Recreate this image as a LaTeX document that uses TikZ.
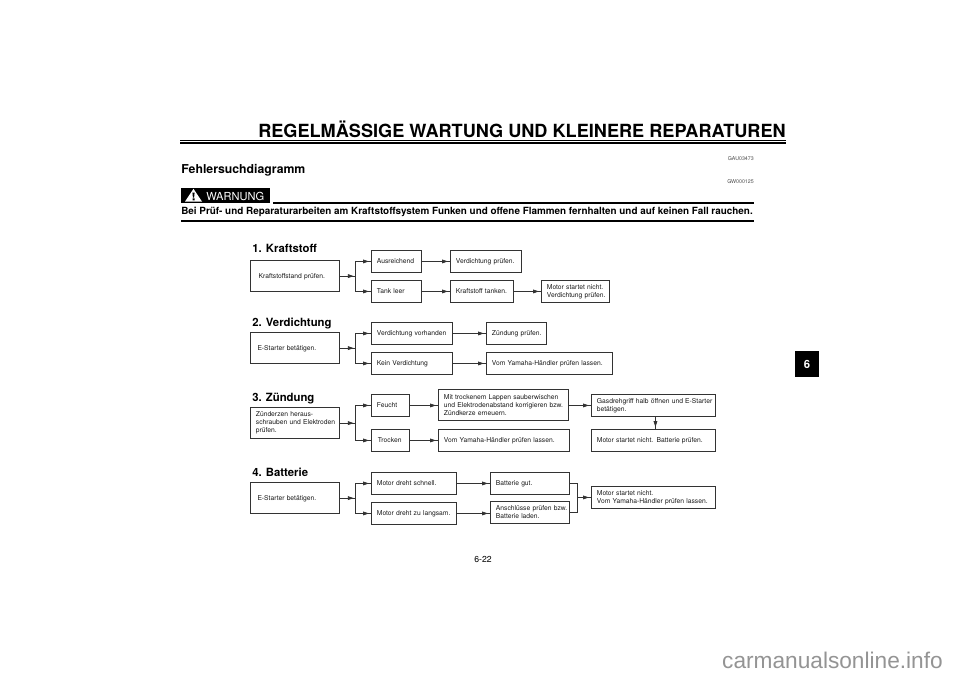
\documentclass[tikz,border=0pt]{standalone}
\usepackage{fontspec}
\setmainfont{TeX Gyre Heros}
\newfontfamily\markfont{Liberation Sans}
\usetikzlibrary{arrows.meta,positioning,decorations.markings}
\newcommand{\boxfont}{\fontsize{5.05pt}{6pt}\selectfont}
\newcommand{\headfont}{\fontsize{8.5pt}{10pt}\selectfont\bfseries}
\definecolor{inkgrey}{gray}{0.2}

\begin{document}
\begin{tikzpicture}[x=0.75pt,y=-0.75pt]
	\tikzstyle{flowbox}[60]=[draw=inkgrey,line width=0.65pt,anchor=north west,inner xsep=0.5pt,inner ysep=0pt,text width=#1*0.75pt-1pt,font=\boxfont,text=black!90,execute at begin node={\leftskip=3.6pt\rightskip=0pt plus 1fil\hyphenpenalty=10000}];
	\tikzstyle{low}=[minimum height=16.5pt];
	\tikzstyle{high}=[minimum height=23.5pt];
	\tikzstyle{one}=[text depth=0pt];
	\tikzstyle{head}=[anchor=base west,inner sep=0pt,font=\headfont];
	\tikzstyle{small}=[anchor=base east,inner sep=0pt,font=\fontsize{3.95pt}{4pt}\selectfont,text=black!70];
	\tikzstyle{wire}=[draw=inkgrey,line width=0.6pt,postaction={decorate},decoration={markings,mark=at position -1.5pt with {\arrow{Triangle[length=4.5pt,width=2.8pt]}}}];
	\tikzstyle{plain}=[draw=inkgrey,line width=0.6pt];
	\path[use as bounding box,fill=white] (0,0) rectangle (960,678);
	% page head
	\node at (786,137) (title) [anchor=base east,inner sep=0pt,font=\fontsize{13.6pt}{14pt}\selectfont\bfseries] {REGELMÄSSIGE WARTUNG UND KLEINERE REPARATUREN};
	\coordinate (rule_l) at (180,140);
	\coordinate (rule_r) at (786,140);
	\draw[line width=0.5pt] (rule_l) -- (rule_r);
	\draw[line width=1.5pt] ([yshift=-2.2pt]rule_l) -- ([yshift=-2.2pt]rule_r);
	\node at (754,160) (code1) [small] {GAU03473};
	\node at (181,173) (subtitle) [anchor=base west,inner sep=0pt,font=\fontsize{9.2pt}{10pt}\selectfont\bfseries] {Fehlersuchdiagramm};
	\node at (754,183) (code2) [small] {GW000125};
	\node at (181,188) (warnbox) [anchor=north west,fill=black,minimum width=66.8pt,minimum height=11.3pt,inner sep=0pt] {};
	\fill[white,line join=round] (185,201.5) -- (193.5,188.8) -- (202,201.5) -- cycle;
	\fill[black] (192.4,192.5) -- (194.6,192.5) -- (194.1,197.5) -- (192.9,197.5) -- cycle (192.5,198.3) rectangle (194.5,200.3);
	\node at (206,200.7) (warntext) [anchor=base west,inner sep=0pt,text=white,font=\fontsize{8.3pt}{9pt}\selectfont] {WARNUNG};
	\coordinate (warn_l) at (273,203);
	\coordinate (warn_r) at (754,203);
	\draw[line width=1.1pt] (warn_l) -- (warn_r);
	\node at (181,214) (warntext2) [anchor=base west,inner sep=0pt,font=\fontsize{7.42pt}{8pt}\selectfont\bfseries] {Bei Prüf- und Reparaturarbeiten am Kraftstoffsystem Funken und offene Flammen fernhalten und auf keinen Fall rauchen.};
	\coordinate (warn2_l) at (181,221);
	\coordinate (warn2_r) at (754,221);
	\draw[line width=0.8pt] (warn2_l) -- (warn2_r);
	% 1
	\node at (252,252) (head1) [head] {1. Kraftstoff};
	\node at (250,260) (kraft_start) [flowbox=89,high,one] {\hspace*{2pt}Kraftstoffstand prüfen.};
	\node at (371,250) (kraft_ok) [flowbox=50,low,one] {Ausreichend};
	\node at (450,250) (kraft_verd) [flowbox=71,low,one] {Verdichtung prüfen.};
	\node at (371,280) (kraft_leer) [flowbox=50,low,one] {Tank leer};
	\node at (450,280) (kraft_tank) [flowbox=63,low,one] {Kraftstoff tanken.};
	\node at (541,280) (kraft_motor) [flowbox=68,low] {Motor startet nicht.\\Verdichtung prüfen.};
	\path (kraft_start.east) ++(16,0) coordinate (kraft_split);
	\draw[wire] (kraft_start.east) -- (kraft_split);
	\draw[wire] (kraft_split) |- (kraft_ok.west);
	\draw[wire] (kraft_split) |- (kraft_leer.west);
	\draw[wire] (kraft_ok.east) -- (kraft_verd.west);
	\draw[wire] (kraft_leer.east) -- (kraft_tank.west);
	\draw[wire] (kraft_tank.east) -- (kraft_motor.west);
	% 2
	\node at (252,326) (head2) [head] {2. Verdichtung};
	\node at (250,332) (verd_start) [flowbox=89,high,one] {\hspace*{1.2pt}E-Starter betätigen.};
	\node at (371,322) (verd_ja) [flowbox=81,low,one] {Verdichtung vorhanden};
	\node at (486,322) (verd_zuend) [flowbox=60,low,one] {Zündung prüfen.};
	\node at (371,352) (verd_nein) [flowbox=81,low,one] {Kein Verdichtung};
	\node at (486,352) (verd_haendler) [flowbox=126,low,one] {Vom Yamaha-Händler prüfen lassen.};
	\path (verd_start.east) ++(16,0) coordinate (verd_split);
	\draw[wire] (verd_start.east) -- (verd_split);
	\draw[wire] (verd_split) |- (verd_ja.west);
	\draw[wire] (verd_split) |- (verd_nein.west);
	\draw[wire] (verd_ja.east) -- (verd_zuend.west);
	\draw[wire] (verd_nein.east) -- (verd_haendler.west);
	% 3
	\node at (252,401) (head3) [head] {3. Zündung};
	\node at (250,407) (zuend_start) [flowbox=89,high] {Zünderzen heraus-\\schrauben und Elektroden\\prüfen.};
	\node at (371,394) (zuend_feucht) [flowbox=38,low,one] {Feucht};
	\node at (438,389) (zuend_lappen) [flowbox=130,high] {Mit trockenem Lappen sauberwischen\\und Elektrodenabstand korrigieren bzw.\\Zündkerze erneuern.};
	\node at (371,429) (zuend_trocken) [flowbox=38,low,one] {\hspace*{0.8pt}Trocken};
	\node at (438,429) (zuend_haendler) [flowbox=131,low,one] {Vom Yamaha-Händler prüfen lassen.};
	\node at (591,394) (zuend_gas) [flowbox=124,low] {Gasdrehgriff halb öffnen und E-Starter\\betätigen.};
	\node at (591,429) (zuend_motor) [flowbox=124,low,one] {Motor startet nicht. Batterie prüfen.};
	\path (zuend_start.east) ++(16,0) coordinate (zuend_split);
	\draw[wire] (zuend_start.east) -- (zuend_split);
	\draw[wire] (zuend_split) |- (zuend_feucht.west);
	\draw[wire] (zuend_split) |- (zuend_trocken.west);
	\draw[wire] (zuend_feucht.east) -- (zuend_lappen.west |- zuend_feucht.east);
	\draw[wire] (zuend_trocken.east) -- (zuend_haendler.west);
	\draw[wire] (zuend_lappen.east |- zuend_gas.west) -- (zuend_gas.west);
	\draw[wire] ([xshift=1.5pt]zuend_gas.south) -- ([xshift=1.5pt]zuend_motor.north);
	% 4
	\node at (252,476) (head4) [head] {4. Batterie};
	\node at (250,482) (batt_start) [flowbox=89,high,one] {\hspace*{1.2pt}E-Starter betätigen.};
	\node at (371,472) (batt_schnell) [flowbox=85,low,one] {Motor dreht schnell.};
	\node at (490,472) (batt_gut) [flowbox=79,low,one] {Batterie gut.};
	\node at (371,502) (batt_langsam) [flowbox=85,low,one] {Motor dreht zu langsam.};
	\node at (490,501) (batt_laden) [flowbox=79,low] {Anschlüsse prüfen bzw.\\Batterie laden.};
	\node at (591,486) (batt_motor) [flowbox=124,low] {Motor startet nicht.\\Vom Yamaha-Händler prüfen lassen.};
	\path (batt_start.east) ++(16,0) coordinate (batt_split);
	\path (batt_gut.east) ++(8,0) coordinate (batt_join);
	\draw[wire] (batt_start.east) -- (batt_split);
	\draw[wire] (batt_split) |- (batt_schnell.west);
	\draw[wire] (batt_split) |- (batt_langsam.west);
	\draw[wire] (batt_schnell.east) -- (batt_gut.west);
	\draw[wire] (batt_langsam.east) -- (batt_laden.west |- batt_langsam.east);
	\draw[plain] (batt_gut.east) -- (batt_join) |- (batt_laden.east);
	\draw[wire] (batt_join |- batt_motor.west) -- (batt_motor.west);
	% foot
	\node at (483,559) (pagenum) [inner sep=0pt,font=\fontsize{6.5pt}{7pt}\selectfont] {6-22};
	\node at (795,350.5) (tab) [anchor=north west,fill=black,text=white,minimum width=17.6pt,minimum height=19.9pt,inner sep=0pt,font=\fontsize{8.5pt}{9pt}\selectfont\bfseries] {6};
	\node at (943,668) (mark) [anchor=base east,inner sep=0pt,text=black!42,font=\markfont\fontsize{17pt}{18pt}\selectfont] {carmanualsonline.info};
\end{tikzpicture}
\end{document}
